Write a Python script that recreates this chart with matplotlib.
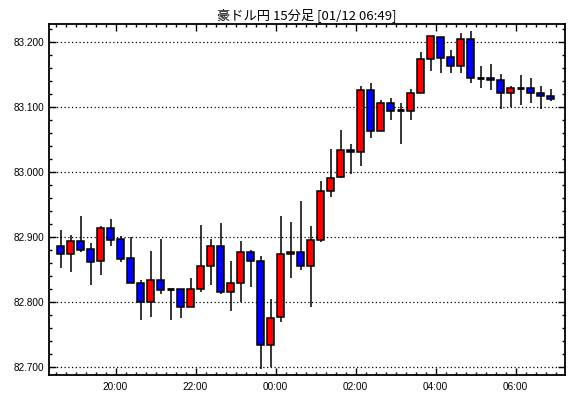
import matplotlib
matplotlib.use("Agg")
import matplotlib.pyplot as plt
from matplotlib.ticker import FixedLocator, MultipleLocator

title = "豪ドル円 15分足 [01/12 06:49]"

opens = [82.887, 82.874, 82.894, 82.882, 82.863, 82.914, 82.897, 82.868, 82.829, 82.800,
         82.834, 82.820, 82.820, 82.792, 82.820, 82.855, 82.886, 82.815, 82.829, 82.877,
         82.863, 82.734, 82.777, 82.874, 82.877, 82.855, 82.895, 82.971, 82.992, 83.035,
         83.031, 83.126, 83.063, 83.106, 83.096, 83.095, 83.122, 83.175, 83.208, 83.178,
         83.163, 83.205, 83.145, 83.145, 83.142, 83.122, 83.129, 83.129, 83.122, 83.118]
highs = [82.911, 82.904, 82.933, 82.891, 82.917, 82.928, 82.902, 82.900, 82.834, 82.879,
         82.897, 82.820, 82.820, 82.838, 82.919, 82.897, 82.922, 82.864, 82.894, 82.880,
         82.871, 82.805, 82.933, 82.924, 82.956, 82.917, 82.987, 83.036, 83.065, 83.044,
         83.133, 83.137, 83.111, 83.114, 83.107, 83.128, 83.185, 83.210, 83.208, 83.188,
         83.214, 83.217, 83.164, 83.167, 83.151, 83.132, 83.150, 83.145, 83.133, 83.128]
lows = [82.853, 82.846, 82.877, 82.826, 82.842, 82.887, 82.862, 82.829, 82.773, 82.778,
        82.813, 82.773, 82.776, 82.792, 82.815, 82.827, 82.813, 82.787, 82.800, 82.824,
        82.698, 82.700, 82.769, 82.838, 82.850, 82.793, 82.893, 82.962, 82.991, 82.998,
        83.010, 83.053, 83.063, 83.081, 83.044, 83.081, 83.122, 83.156, 83.152, 83.153,
        83.153, 83.138, 83.130, 83.127, 83.098, 83.100, 83.104, 83.107, 83.098, 83.110]
closes = [82.874, 82.894, 82.881, 82.862, 82.914, 82.896, 82.867, 82.829, 82.800, 82.834,
          82.819, 82.820, 82.792, 82.820, 82.855, 82.886, 82.815, 82.829, 82.877, 82.863,
          82.734, 82.776, 82.874, 82.877, 82.855, 82.895, 82.971, 82.991, 83.035, 83.031,
          83.126, 83.063, 83.106, 83.095, 83.096, 83.122, 83.175, 83.210, 83.176, 83.163,
          83.205, 83.145, 83.145, 83.142, 83.122, 83.129, 83.129, 83.122, 83.118, 83.113]

xtick_pos = [5.5, 13.5, 21.5, 29.5, 37.5, 45.5]
xtick_labels = ["20:00", "22:00", "00:00", "02:00", "04:00", "06:00"]
ytick_vals = [82.7, 82.8, 82.9, 83.0, 83.1, 83.2]
ytick_labels = ["82.700", "82.800", "82.900", "83.000", "83.100", "83.200"]

W, H = 570, 398
fig = plt.figure(figsize=(W / 100, H / 100), dpi=100)
ax = fig.add_axes([49.3 / W, (H - 375) / H, (565 - 49.3) / W, (375 - 24.3) / H])

bw = 0.62
for i, (o, h, l, c) in enumerate(zip(opens, highs, lows, closes)):
    ax.vlines(i, l, h, color="black", linewidth=1.1, zorder=3)
    if c > o:
        ax.bar(i, c - o, bottom=o, width=bw, color="#ff0000", edgecolor="black",
               linewidth=1.1, zorder=4)
    elif c < o:
        ax.bar(i, o - c, bottom=c, width=bw, color="#0000ff", edgecolor="black",
               linewidth=1.1, zorder=4)
    else:
        ax.hlines(o, i - bw / 2 - 0.05, i + bw / 2 + 0.05, color="black",
                  linewidth=2.0, zorder=4)

ax.set_xlim(-1.12, 50.45)
ax.set_ylim(82.688, 83.2277)

ax.xaxis.set_major_locator(FixedLocator(xtick_pos))
ax.set_xticklabels(xtick_labels, family="Liberation Sans", fontsize=7.2)
ax.xaxis.set_minor_locator(FixedLocator([k - 0.5 for k in range(51)]))
ax.yaxis.set_major_locator(FixedLocator(ytick_vals))
ax.set_yticklabels(ytick_labels, family="Liberation Sans", fontsize=7.2)
ax.yaxis.set_minor_locator(MultipleLocator(0.02))

ax.tick_params(which="both", direction="in", top=True, right=True,
               color="black", width=1.0)
ax.tick_params(axis="y", pad=3.6)
ax.tick_params(axis="x", pad=5.0)
ax.tick_params(which="major", length=5)
ax.tick_params(which="minor", length=2.5)

ax.grid(True, which="major", axis="y", color="black", linestyle=(0, (1, 2)),
        linewidth=0.9, zorder=1)
ax.set_axisbelow(True)

for s in ax.spines.values():
    s.set_linewidth(1.3)
    s.set_color("black")

fig.text((49.3 + 565) / 2 / W, 1 - 15 / H, title, ha="center", va="center",
         fontsize=9.5, family=["Noto Sans CJK JP", "DejaVu Sans"])

fig.savefig("out.png", dpi=100, facecolor="white")
